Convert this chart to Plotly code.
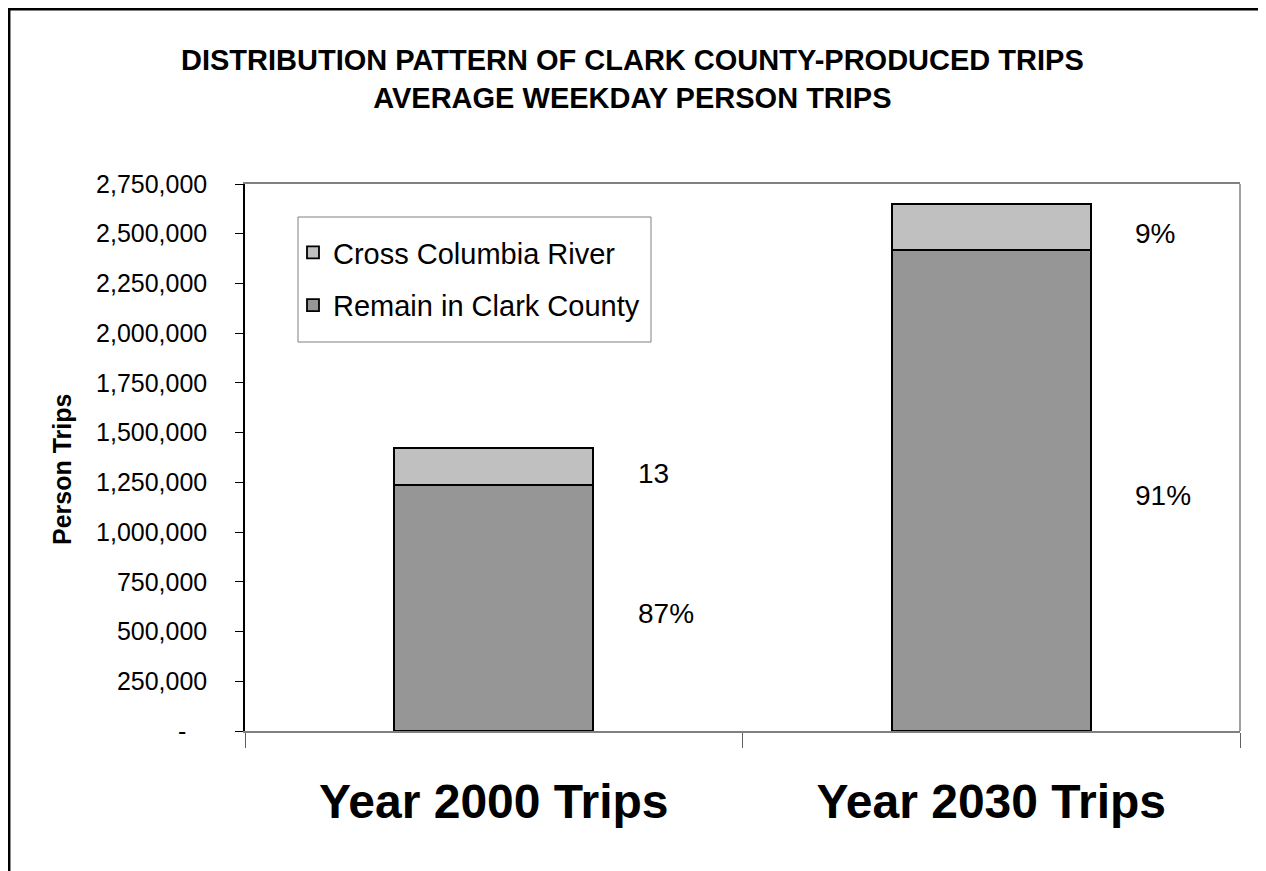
import plotly.graph_objects as go

categories = ["Year 2000 Trips", "Year 2030 Trips"]
remain_in_clark = [1235000, 2418000]
cross_columbia = [188000, 233000]
remain_labels = ["87%", "91%"]
cross_labels = ["13", "9%"]
y_tick_values = [0, 250000, 500000, 750000, 1000000, 1250000, 1500000,
                 1750000, 2000000, 2250000, 2500000, 2750000]
y_tick_labels = ["-\u00a0\u00a0\u00a0", "250,000", "500,000", "750,000", "1,000,000",
                 "1,250,000", "1,500,000", "1,750,000", "2,000,000", "2,250,000",
                 "2,500,000", "2,750,000"]
boundary_ticks = [-0.5, 0.5, 1.5]
title_text = "DISTRIBUTION PATTERN OF CLARK COUNTY-PRODUCED TRIPS<br>AVERAGE WEEKDAY PERSON TRIPS"
y_title = "Person Trips"

FONT = "Liberation Sans, Arial, sans-serif"

# page body has an 8px margin -> figure is 8px smaller and everything shifted
W, H = 1258, 863
L, R, T, B = 237, 26, 176, 140
pw, ph = W - L - R, H - T - B


def px(x):
    return (x - L) / pw


def py(y):
    return 1 - (y - T) / ph


fig = go.Figure()
fig.add_trace(go.Bar(
    x=categories, y=remain_in_clark, name="Remain in Clark County",
    marker=dict(color="#969696", line=dict(color="black", width=1.8)),
    width=0.4, legendgroup="a", legendrank=2,
))
fig.add_trace(go.Bar(
    x=categories, y=cross_columbia, name="Cross Columbia River",
    marker=dict(color="#C0C0C0", line=dict(color="black", width=1.8)),
    width=0.4, legendgroup="b", legendrank=1,
))

annotations = []
for i, cat in enumerate(categories):
    annotations.append(dict(
        x=cat, y=remain_in_clark[i] / 2, text=remain_labels[i],
        xref="x", yref="y", showarrow=False, xanchor="left", yanchor="middle",
        xshift=142, yshift=-5, font=dict(family=FONT, size=28, color="black"),
    ))
    annotations.append(dict(
        x=cat, y=remain_in_clark[i] + cross_columbia[i] / 2, text=cross_labels[i],
        xref="x", yref="y", showarrow=False, xanchor="left", yanchor="middle",
        xshift=142, yshift=-7, font=dict(family=FONT, size=28, color="black"),
    ))
annotations.append(dict(
    x=px(624), y=py(34), xref="paper", yref="paper", text=title_text,
    showarrow=False, xanchor="center", yanchor="top", align="center",
    font=dict(family=FONT, size=29, color="black", weight="bold"),
))
annotations.append(dict(
    x=px(54), y=py(462), xref="paper", yref="paper", text=y_title,
    showarrow=False, xanchor="center", yanchor="middle", textangle=-90,
    font=dict(family=FONT, size=25, color="black", weight="bold"),
))

shapes = [
    # outer chart frame
    dict(type="rect", xref="paper", yref="paper",
         x0=px(1.2), x1=px(W + 20), y0=py(H + 20), y1=py(1.2),
         line=dict(color="black", width=2.5), fillcolor="rgba(0,0,0,0)", layer="below"),
    # right border of plot area
    dict(type="line", xref="paper", yref="paper", x0=1, x1=1, y0=0, y1=1,
         line=dict(color="#808080", width=1.5)),
    # legend box
    dict(type="rect", xref="paper", yref="paper",
         x0=px(290), x1=px(643), y0=py(334), y1=py(209),
         line=dict(color="#808080", width=1), fillcolor="white", layer="below"),
]

fig.update_layout(
    width=W, height=H,
    margin=dict(l=L, r=R, t=T, b=B, autoexpand=False),
    paper_bgcolor="white", plot_bgcolor="white",
    barmode="stack",
    font=dict(family=FONT, color="black"),
    xaxis=dict(
        type="category", range=[-0.5, 1.5],
        showline=True, linecolor="#808080", linewidth=1.5, mirror=True,
        ticks="outside", tickson="boundaries", ticklen=15, tickcolor="#606060", tickwidth=1,
        tickfont=dict(family=FONT, size=48, color="black", weight="bold"),
        ticklabelstandoff=28,
        showgrid=False, zeroline=False,
    ),
    xaxis2=dict(
        overlaying="x", type="linear", range=[-0.5, 1.5],
        tickvals=boundary_ticks, showticklabels=False,
        ticks="inside", ticklen=15, tickcolor="#606060", tickwidth=1,
        showline=False, showgrid=False, zeroline=False,
    ),
    yaxis=dict(
        range=[0, 2750000], tickvals=y_tick_values, ticktext=y_tick_labels,
        showline=True, linecolor="black", linewidth=1.5,
        ticks="outside", ticklen=8, tickcolor="black", tickwidth=1,
        tickfont=dict(family=FONT, size=25, color="black"),
        ticklabelstandoff=23,
        showgrid=False, zeroline=False,
    ),
    yaxis2=dict(
        overlaying="y", range=[0, 2750000], tickvals=y_tick_values,
        showticklabels=False, ticks="inside", ticklen=8, tickcolor="black", tickwidth=1,
        showline=False, showgrid=False, zeroline=False,
    ),
    legend=dict(
        x=px(285), y=py(219), xanchor="left", yanchor="top",
        bgcolor="rgba(0,0,0,0)", borderwidth=0,
        font=dict(family=FONT, size=29, color="black"),
        traceorder="grouped", tracegroupgap=12,
        itemwidth=30,
    ),
    annotations=annotations,
    shapes=shapes,
)

fig.write_html("out.html")
